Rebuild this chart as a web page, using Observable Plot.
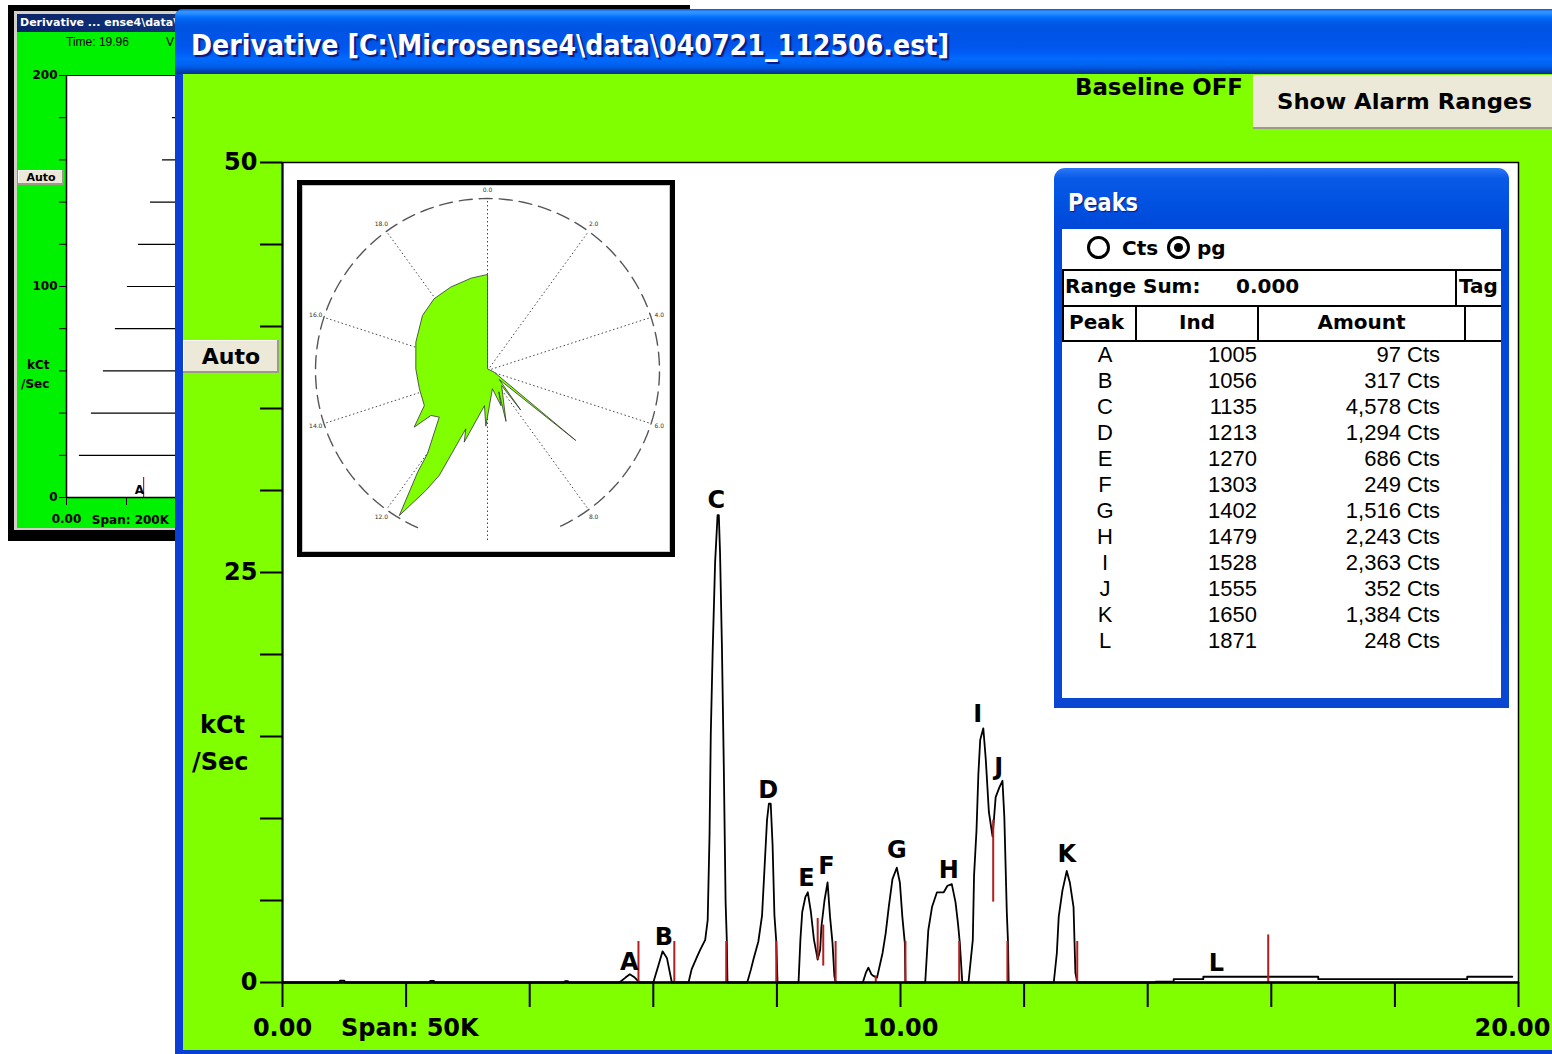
<!DOCTYPE html>
<html>
<head>
<meta charset="utf-8">
<script src="https://cdn.jsdelivr.net/npm/d3@7"></script>
<script src="https://cdn.jsdelivr.net/npm/@observablehq/plot@0.6"></script>
<style>
html,body{margin:0;padding:0;background:#fff;}
#page{position:relative;width:1552px;height:1054px;overflow:hidden;background:#fff;}
.a{position:absolute;white-space:nowrap;}
.b{font-family:"DejaVu Sans",sans-serif;font-weight:bold;}
.bc{font-family:"DejaVu Sans Condensed","DejaVu Sans",sans-serif;font-weight:bold;}
.r{font-family:"Liberation Sans",Arial,sans-serif;}
.btn{background:#ece9d8;box-shadow:inset -2px -2px 0 #9d9a8a, inset 1px 1px 0 #fff;}
.xpbar{background:linear-gradient(#0058ee 0%,#3a93ff 4%,#288eff 7%,#127dff 10%,#036ffc 13%,#0262ee 17%,#0057e5 24%,#0054e3 30%,#0055eb 56%,#005bf5 66%,#026afe 76%,#0062ef 86%,#0052d6 92%,#0040ab 96%,#003092 100%);}
</style>
</head>
<body>
<div id="page">
  <!-- background window -->
  <div class="a" style="left:8px;top:5px;width:682px;height:536px;background:#000;z-index:1;"></div>
  <div class="a" style="left:14px;top:11px;width:676px;height:519px;background:#d4d0c8;z-index:1;"></div>
  <div class="a" style="left:17px;top:14px;width:673px;height:18px;background:linear-gradient(to right,#0a246a,#1d4a8f 400px,#a6caf0);z-index:1;"></div>
  <div class="a b" style="left:20px;top:15px;font-size:11px;line-height:16px;color:#fff;z-index:1;">Derivative ... ense4\data\040721_112506.est</div>
  <div class="a" style="left:17px;top:32px;width:673px;height:496px;background:#00f200;z-index:1;"></div>
  <div class="a r" style="left:66px;top:35px;font-size:12px;line-height:14px;color:#000;z-index:1;">Time: 19.96</div>
  <div class="a r" style="left:166px;top:35px;font-size:12px;line-height:14px;color:#000;z-index:1;">V</div>
  <div id="mini" class="a" style="left:18px;top:60px;width:400px;height:468px;z-index:1;"></div>
  <div class="a b btn" style="left:18px;top:170px;width:46px;height:15px;font-size:11px;line-height:15px;text-align:center;z-index:1;">Auto</div>
  <div class="a b" style="left:27px;top:358px;font-size:12px;line-height:14px;z-index:1;">kCt</div>
  <div class="a b" style="left:21px;top:377px;font-size:12px;line-height:14px;z-index:1;">/Sec</div>

  <!-- main window -->
  <div class="a" style="left:175px;top:9px;width:1400px;height:1045px;background:#0a3fd6;border-radius:8px 8px 0 0;z-index:2;"></div>
  <div class="a xpbar" style="left:175px;top:9px;width:1400px;height:65px;border-radius:8px 8px 0 0;z-index:2;"></div>
  <div id="title" class="a bc" style="left:191px;top:29px;font-size:28px;line-height:34px;color:#fff;text-shadow:2px 2px 1px #0a1a80;z-index:3;">Derivative [C:\Microsense4\data\040721_112506.est]</div>
  <div class="a" style="left:183px;top:74px;width:1400px;height:976px;background:#80ff00;z-index:2;"></div>
  <div id="main" class="a" style="left:182px;top:75px;width:1370px;height:979px;z-index:3;"></div>

  <div class="a b btn" style="left:183px;top:340px;width:96px;height:33px;font-size:22px;line-height:33px;text-align:center;z-index:4;">Auto</div>
  <div class="a b" style="left:200px;top:711px;font-size:24px;line-height:28px;z-index:4;">kCt</div>
  <div class="a b" style="left:192px;top:748px;font-size:24px;line-height:28px;z-index:4;">/Sec</div>
  <div id="baseline" class="a b" style="left:1075px;top:73px;font-size:23px;line-height:28px;z-index:4;">Baseline OFF</div>
  <div class="a btn" style="left:1253px;top:75px;width:320px;height:54px;z-index:4;"></div>
  <div id="alarm" class="a b" style="left:1277px;top:88px;font-size:22px;line-height:28px;z-index:5;">Show Alarm Ranges</div>

  <!-- polar inset -->
  <div class="a" style="left:297px;top:180px;width:378px;height:377px;box-sizing:border-box;border:5px solid #000;background:#fff;z-index:5;">
    <div style="position:absolute;left:0;top:0;right:0;bottom:0;border:1px solid #c8c8c8;"></div>
    <div id="polar" style="position:absolute;left:0;top:0;width:368px;height:367px;"></div>
  </div>

  <!-- peaks panel -->
  <div class="a" style="left:1054px;top:168px;width:455px;height:540px;border-radius:11px 11px 0 0;background:linear-gradient(#2a78f5 0px,#0a5ae8 10px,#0050e0 40px,#0048d8 60px,#0a46d2 100%);z-index:5;"></div>
  <div id="peaksTitle" class="a bc" style="left:1068px;top:188px;font-size:24px;line-height:30px;color:#fff;text-shadow:1px 1px 1px #0a1a80;z-index:6;">Peaks</div>
  <div id="panel" class="a" style="left:1062px;top:229px;width:439px;height:469px;background:#fff;z-index:6;overflow:hidden;"></div>
</div>

<script>
// ---------------- data ----------------
// main derivative trace (time in min, kCt/Sec)
const traceTime = [
  0, 0.92, 0.93, 1.00, 1.01, 2.38, 2.39, 2.45, 2.46, 4.56, 4.57, 4.62, 4.63,
  5.45, 5.55, 5.62, 5.70, 5.78,
  6.00, 6.08, 6.15, 6.22, 6.30,
  6.57, 6.62, 6.70, 6.76, 6.84, 6.88, 6.91, 6.93, 6.96, 7.00, 7.04, 7.06, 7.08, 7.11, 7.14, 7.17, 7.19, 7.20,
  7.52, 7.58, 7.62, 7.70, 7.76, 7.80, 7.84, 7.87, 7.90, 7.93, 7.96, 7.99, 8.01,
  8.35, 8.38, 8.41, 8.46, 8.50, 8.55, 8.60, 8.63, 8.66, 8.70, 8.72, 8.77, 8.82, 8.86, 8.90, 8.93, 8.95,
  9.39, 9.44, 9.48, 9.53, 9.56, 9.62, 9.71, 9.76, 9.81, 9.87, 9.94, 9.99, 10.03, 10.07, 10.08,
  10.40, 10.45, 10.51, 10.59, 10.70, 10.76, 10.83, 10.89, 10.93, 10.96, 11.00,
  11.10, 11.17, 11.19, 11.23, 11.26, 11.29, 11.34, 11.38, 11.43, 11.49, 11.54, 11.60, 11.65, 11.68, 11.72, 11.74, 11.75,
  12.48, 12.53, 12.56, 12.62, 12.69, 12.74, 12.80, 12.83, 12.86,
  14.13, 14.13, 14.42, 14.42, 14.90, 14.90, 16.76, 16.76, 19.17, 19.17, 19.90
];
const traceValue = [
  0, 0, 0.12, 0.12, 0, 0, 0.1, 0.1, 0, 0, 0.08, 0.08, 0,
  0, 0.3, 0.5, 0.3, 0,
  0, 1.0, 1.9, 1.5, 0,
  0, 0.8, 1.5, 2.0, 2.6, 3.8, 9.0, 15.1, 20.1, 25.6, 28.5, 28.5, 26.2, 20.6, 13.4, 4.9, 2.5, 0,
  0, 0.8, 1.4, 2.5, 4.1, 7.0, 9.9, 10.9, 10.9, 8.4, 4.1, 2.5, 0,
  0, 2.6, 4.3, 5.2, 5.5, 4.3, 2.6, 2.0, 1.4, 2.0, 3.4, 5.0, 6.1, 4.0, 2.4, 0.4, 0,
  0, 0.6, 0.9, 0.5, 0.4, 0.3, 1.8, 3.0, 4.6, 6.3, 7.0, 6.1, 4.0, 2.4, 0,
  0, 3.2, 4.6, 5.5, 5.5, 5.9, 6.0, 4.9, 3.6, 2.4, 0,
  0, 2.6, 6.5, 9.3, 12.7, 14.8, 15.5, 13.6, 10.4, 8.9, 11.3, 11.9, 12.3, 10.1, 4.3, 2.4, 0,
  0, 1.8, 4.0, 5.6, 6.8, 6.1, 4.6, 0.6, 0,
  0, 0.05, 0.05, 0.2, 0.2, 0.35, 0.35, 0.2, 0.2, 0.35, 0.35
];
// red integration markers
const markerTime = [5.76, 6.34, 7.18, 7.99, 8.66, 8.75, 8.95, 9.60, 10.08, 10.95, 11.50, 11.73, 12.86, 15.95];
const markerLow  = [0, 0, 0, 0, 1.4, 1.0, 0, 0, 0, 0, 4.9, 0, 0, 0];
const markerHigh = [2.5, 2.5, 2.5, 2.5, 3.9, 3.5, 2.5, 0.4, 2.5, 2.5, 9.9, 2.5, 2.5, 2.9];
// peak labels
const peakLetters = ["A","B","C","D","E","F","G","H","I","J","K","L"];
const peakLabelTime  = [5.61, 6.17, 7.02, 7.86, 8.48, 8.80, 9.94, 10.78, 11.25, 11.59, 12.69, 15.11];
const peakLabelValue = [1.22, 2.74, 29.4, 11.7, 6.34, 7.07, 8.05, 6.83, 16.34, 13.1, 7.8, 1.16];
// peaks table
const peakInd    = [1005, 1056, 1135, 1213, 1270, 1303, 1402, 1479, 1528, 1555, 1650, 1871];
const peakAmount = [97, 317, 4578, 1294, 686, 249, 1516, 2243, 2363, 352, 1384, 248];
const amountUnit = "Cts";
const rangeSum = "0.000";
// axes
const yTickValues = [0, 5, 10, 15, 20, 25, 30, 35, 40, 45, 50];
const yLabeledTicks = [0, 25, 50];
const xTickValues = [0, 2, 4, 6, 8, 10, 12, 14, 16, 18, 20];
const xLabeledTicks = [0, 10];
const xEndTick = 20;
const spanLabel = "Span: 50K";
// polar inset (angle in degrees clockwise from top, radius as fraction of outer ring)
const polarAngle  = [0, 0, 104, 128.4, 127.6, 140, 137, 160, 152, 159, 165, 181.7, 185, 198, 200.4, 204.7, 207.2, 211.3, 214.5, 215.8, 226, 231.5, 232.3, 241, 255, 271.3, 291.6, 310.2, 323.3, 336.3, 349.8];
const polarRadius = [0.556, 0.01, 0.04, 0.655, 0.086, 0.30, 0.12, 0.315, 0.14, 0.22, 0.11, 0.324, 0.205, 0.438, 0.362, 0.672, 0.784, 0.987, 0.717, 0.597, 0.39, 0.42, 0.539, 0.42, 0.41, 0.417, 0.448, 0.495, 0.52, 0.53, 0.545];
const polarSpokes = [0, 2, 4, 6, 8, 10, 12, 14, 16, 18];
const polarSpokeLabels = [0, 2, 4, 6, 8, 12, 14, 16, 18];
// background mini window
const miniRuleValue = [20, 40, 60, 80, 100, 120, 140, 160, 180];
const miniRuleStart = [0.43, 0.83, 1.23, 1.63, 2.03, 2.40, 2.80, 3.20, 3.53];
const miniYTicks = [0, 20, 40, 60, 80, 100, 120, 140, 160, 180, 200];
const miniYLabeled = [0, 100, 200];
const miniXTicks = [0, 2, 4, 6, 8, 10];
const miniMarkerTime = [2.57];
const miniMarkerHigh = [9.5];
const miniPeakLetters = ["A"];
const miniPeakTime = [2.43];
const miniPeakValue = [3.3];
const miniSpanLabel = "Span: 200K";

// ---------------- main chart ----------------
const FONT = "DejaVu Sans, sans-serif";
const trace = traceTime.map((t, i) => ({t, v: traceValue[i]}));
const markers = markerTime.map((t, i) => ({t, lo: markerLow[i], hi: markerHigh[i]}));
const peaks = peakLetters.map((s, i) => ({s, t: peakLabelTime[i], v: peakLabelValue[i]}));
const fmt2 = d3.format(".2f");

const main = Plot.plot({
  width: 1370, height: 979,
  marginLeft: 100, marginRight: 34, marginTop: 87, marginBottom: 72,
  style: {background: "transparent", fontFamily: FONT, fontWeight: "bold", overflow: "visible"},
  x: {domain: [0, 20]},
  y: {domain: [0, 50]},
  marks: [
    Plot.frame({fill: "white", stroke: "black", strokeWidth: 1.5}),
    Plot.axisY({ticks: yTickValues, tickSize: 22, tickPadding: 3, strokeWidth: 2,
      tickFormat: d => yLabeledTicks.includes(d) ? String(d) : "", fontSize: 24, fontWeight: "bold", label: null}),
    Plot.axisX({ticks: xTickValues, tickSize: 25, tickPadding: 11, strokeWidth: 2,
      tickFormat: d => xLabeledTicks.includes(d) ? fmt2(d) : "", fontSize: 24, fontWeight: "bold", label: null}),
    Plot.text([{t: xEndTick, s: fmt2(xEndTick)}], {x: "t", text: "s", frameAnchor: "bottom", lineAnchor: "middle", dy: 46, dx: 32,
      textAnchor: "end", fontSize: 24, fontWeight: "bold"}),
    Plot.text([{t: 2.06, s: spanLabel}], {x: "t", text: "s", frameAnchor: "bottom", lineAnchor: "middle", dy: 46, fontSize: 24, fontWeight: "bold"}),
    Plot.line(trace, {x: "t", y: "v", stroke: "black", strokeWidth: 1.8}),
    Plot.ruleX(markers, {x: "t", y1: "lo", y2: "hi", stroke: "#b41e1e", strokeWidth: 2}),
    Plot.ruleY([0], {stroke: "black", strokeWidth: 2.5}),
    Plot.ruleX([0], {stroke: "black", strokeWidth: 2}),
    Plot.text(peaks, {x: "t", y: "v", text: "s", fontSize: 24, fontWeight: "bold"})
  ]
});
document.getElementById("main").appendChild(main);

// ---------------- polar inset ----------------
const rad = d => d * Math.PI / 180;
const shape = polarAngle.map((a, i) => ({a, r: polarRadius[i]}));
const ring = d3.range(204, 517, 2).map(a => ({a}));
const polar = Plot.plot({
  width: 368, height: 367, margin: 0,
  style: {background: "transparent", overflow: "visible"},
  x: {domain: [-185 / 172, 183 / 172], axis: null},
  y: {domain: [-182 / 172, 185 / 172], axis: null},
  marks: [
    Plot.link(polarSpokes, {x1: () => 0, y1: () => 0, x2: d => Math.sin(rad(d * 18)), y2: d => Math.cos(rad(d * 18)),
      stroke: "#444", strokeWidth: 1, strokeDasharray: "1.5,2.5"}),
    Plot.line(ring, {x: d => Math.sin(rad(d.a)), y: d => Math.cos(rad(d.a)), stroke: "#555", strokeWidth: 1.4, strokeDasharray: "13,7"}),
    Plot.line(shape, {x: d => d.r * Math.sin(rad(d.a)), y: d => d.r * Math.cos(rad(d.a)), curve: "linear-closed",
      fill: "#80ff00", stroke: "#333", strokeWidth: 0.8}),
    Plot.text(polarSpokeLabels, {x: d => 1.05 * Math.sin(rad(d * 18)), y: d => 1.05 * Math.cos(rad(d * 18)),
      text: d => d.toFixed(1), fontSize: 6, fill: "#333", fontFamily: FONT})
  ]
});
document.getElementById("polar").appendChild(polar);

// ---------------- mini (background) chart ----------------
const mini = Plot.plot({
  width: 400, height: 468,
  marginLeft: 48, marginRight: 0, marginTop: 15, marginBottom: 31,
  style: {background: "transparent", fontFamily: FONT, fontWeight: "bold", overflow: "visible"},
  x: {domain: [0, 352 / 30]},
  y: {domain: [0, 200]},
  marks: [
    Plot.frame({fill: "white", stroke: "black", strokeWidth: 1}),
    Plot.axisY({ticks: miniYTicks, tickSize: 7, tickPadding: 2, tickFormat: d => miniYLabeled.includes(d) ? String(d) : "",
      fontSize: 12, fontWeight: "bold", label: null}),
    Plot.axisX({ticks: miniXTicks, tickSize: 8, tickPadding: 9, tickFormat: d => d === 0 ? "0.00" : "",
      fontSize: 12, fontWeight: "bold", label: null}),
    Plot.text([{t: 2.13, s: miniSpanLabel}], {x: "t", text: "s", frameAnchor: "bottom", lineAnchor: "middle", dy: 23, fontSize: 12, fontWeight: "bold"}),
    Plot.ruleY(miniRuleValue.map((v, i) => ({v, s: miniRuleStart[i]})), {y: "v", x1: "s", x2: () => 352 / 30, stroke: "black", strokeWidth: 1.2}),
    Plot.ruleX(miniMarkerTime.map((t, i) => ({t, h: miniMarkerHigh[i]})), {x: "t", y1: () => 0, y2: "h", stroke: "#b41e1e", strokeWidth: 1.2}),
    Plot.text(miniPeakLetters.map((s, i) => ({s, t: miniPeakTime[i], v: miniPeakValue[i]})), {x: "t", y: "v", text: "s", fontSize: 12, fontWeight: "bold"}),
    Plot.ruleX([0], {stroke: "black", strokeWidth: 1.5}),
    Plot.ruleY([0], {stroke: "black", strokeWidth: 1.5})
  ]
});
document.getElementById("mini").appendChild(mini);

// ---------------- peaks table ----------------
const panel = document.getElementById("panel");
const OX = 1062, OY = 229;
function add(html, cls, css) {
  const d = document.createElement("div");
  d.className = "a " + (cls || "");
  d.style.cssText = css;
  d.innerHTML = html;
  panel.appendChild(d);
  return d;
}
// radio row
add("", "", `left:${1087 - OX}px;top:${236 - OY}px;width:17px;height:17px;border:3px solid #000;border-radius:50%;`);
add("Cts", "b", `left:${1122 - OX}px;top:${234 - OY}px;font-size:20px;line-height:28px;`);
add("", "", `left:${1167 - OX}px;top:${236 - OY}px;width:17px;height:17px;border:3px solid #000;border-radius:50%;`);
add("", "", `left:${1174 - OX}px;top:${243 - OY}px;width:9px;height:9px;background:#000;border-radius:50%;`);
add("pg", "b", `left:${1197 - OX}px;top:${234 - OY}px;font-size:20px;line-height:28px;`);
// range sum box
add("", "", `left:0px;top:${269 - OY}px;width:450px;height:34px;border:2px solid #000;`);
add("", "", `left:${1455 - OX}px;top:${269 - OY}px;width:2px;height:36px;background:#000;`);
add("Range Sum:", "b", `left:${1065 - OX}px;top:${272 - OY}px;font-size:20px;line-height:28px;`);
add(rangeSum, "b", `left:${1236 - OX}px;top:${272 - OY}px;font-size:20px;line-height:28px;`);
add("Tag", "b", `left:${1459 - OX}px;top:${272 - OY}px;font-size:20px;line-height:28px;`);
// header row
add("", "", `left:0px;top:${305 - OY}px;width:450px;height:33px;border-top:2px solid #000;border-bottom:2px solid #000;`);
[1062, 1135, 1257, 1464].forEach(x => add("", "", `left:${x - OX}px;top:${305 - OY}px;width:2px;height:37px;background:#000;`));
add("Peak", "b", `left:${1069 - OX}px;top:${308 - OY}px;font-size:20px;line-height:28px;`);
add("Ind", "b", `left:${1137 - OX}px;top:${308 - OY}px;width:120px;text-align:center;font-size:20px;line-height:28px;`);
add("Amount", "b", `left:${1259 - OX}px;top:${308 - OY}px;width:205px;text-align:center;font-size:20px;line-height:28px;`);
// rows
const fmtAmt = d3.format(",");
peakLetters.forEach((s, i) => {
  const cy = 355 + 26 * i - OY;
  add(s, "r", `left:${1085 - OX}px;top:${cy - 13}px;width:40px;text-align:center;font-size:22px;line-height:26px;`);
  add(String(peakInd[i]), "r", `left:${1157 - OX}px;top:${cy - 13}px;width:100px;text-align:right;font-size:22px;line-height:26px;`);
  add(fmtAmt(peakAmount[i]) + " " + amountUnit, "r", `left:${1290 - OX}px;top:${cy - 13}px;width:150px;text-align:right;font-size:22px;line-height:26px;`);
});

// ---------------- fit a few texts to their measured widths ----------------
function fitText(id, w) {
  const el = document.getElementById(id);
  const r = el.getBoundingClientRect().width;
  if (r > 0) { el.style.transformOrigin = "0 50%"; el.style.transform = `scaleX(${w / r})`; }
}
fitText("title", 758);
fitText("baseline", 168);
fitText("alarm", 255);
fitText("peaksTitle", 70);
</script>
</body>
</html>
